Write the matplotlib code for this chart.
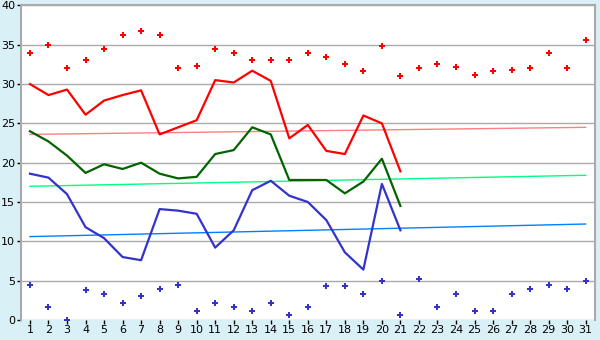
import numpy as np
from matplotlib import pyplot as plt

days = list(range(1, 32))

# daily max (red markers) and min (blue markers)
max_pts = [33.9, 35.0, 32.0, 33.0, 34.4, 36.2, 36.8, 36.2, 32.1, 32.3,
           34.4, 33.9, 33.0, 33.0, 33.0, 34.0, 33.5, 32.5, 31.6, 34.9,
           31.0, 32.0, 32.5, 32.2, 31.1, 31.7, 31.8, 32.0, 33.9, 32.0, 35.6]
min_pts = [4.4, 1.7, 0.0, 3.8, 3.3, 2.2, 3.1, 3.9, 4.4, 1.1,
           2.2, 1.7, 1.1, 2.2, 0.6, 1.7, 4.3, 4.3, 3.3, 5.0,
           0.6, 5.2, 1.7, 3.3, 1.1, 1.1, 3.3, 3.9, 4.4, 3.9, 5.0]

# lines for days 1-21
line_days = list(range(1, 22))
red_line = [30.0, 28.6, 29.3, 26.1, 27.9, 28.6, 29.2, 23.6, 24.5, 25.4,
            30.5, 30.2, 31.7, 30.4, 23.1, 24.8, 21.5, 21.1, 26.0, 25.0, 18.9]
green_line = [24.0, 22.7, 20.9, 18.7, 19.8, 19.2, 20.0, 18.6, 18.0, 18.2,
              21.1, 21.6, 24.5, 23.6, 17.8, 17.8, 17.8, 16.1, 17.6, 20.5, 14.5]
blue_line = [18.6, 18.1, 16.0, 11.8, 10.4, 8.0, 7.6, 14.1, 13.9, 13.5,
             9.2, 11.4, 16.5, 17.7, 15.8, 15.0, 12.7, 8.6, 6.4, 17.3, 11.4]

# trend lines, value at day 1 and day 31
trend_x = [1, 31]
red_trend = [23.6, 24.5]
green_trend = [17.0, 18.4]
blue_trend = [10.6, 12.2]

fig = plt.figure(figsize=(6, 3.4), dpi=100, facecolor='#daf0f7')
ax = fig.add_axes([0.0345, 0.059, 0.957, 0.925])
ax.set_facecolor('white')

ax.plot(trend_x, red_trend, color='#ff8080', lw=1)
ax.plot(trend_x, green_trend, color='#00ff80', lw=1)
ax.plot(trend_x, blue_trend, color='#0080ff', lw=1)

ax.plot(line_days, red_line, color='#ff0000', lw=1.6)
ax.plot(line_days, green_line, color='#006400', lw=1.6)
ax.plot(line_days, blue_line, color='#3333cc', lw=1.6)

ax.plot(days, max_pts, 'P', color='#ff0000', ms=4.5, mew=0, ls='none')
ax.plot(days, min_pts, 'P', color='#3333cc', ms=4.5, mew=0, ls='none')

ax.set_xlim(0.5, 31.5)
ax.set_ylim(0, 40)
ax.set_xticks(days)
ax.set_yticks(range(0, 41, 5))
ax.yaxis.grid(True, color='#aaaaaa', lw=1)
ax.set_axisbelow(True)

for s in ['left', 'right', 'top']:
    ax.spines[s].set_color('#aaaaaa')
    ax.spines[s].set_linewidth(1.5)
ax.spines['bottom'].set_visible(False)
ax.tick_params(axis='both', length=3, width=1, color='black', labelsize=8, pad=1)

fig.savefig('out.png', dpi=100, facecolor=fig.get_facecolor())
